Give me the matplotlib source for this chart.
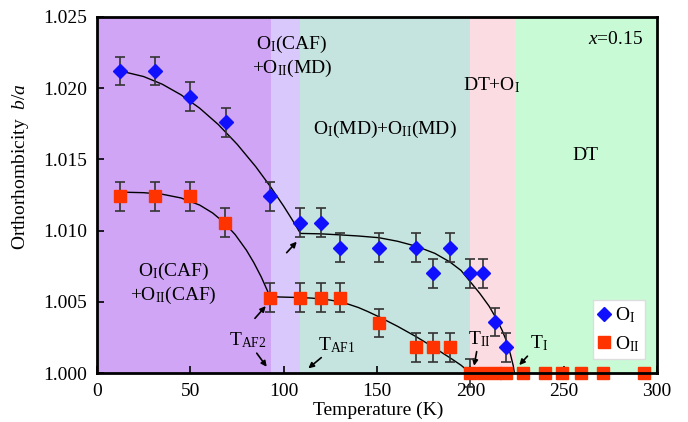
import matplotlib

matplotlib.use("Agg")

import matplotlib.pyplot as plt  # noqa: E402


# measured orthorhombicity, O_I phase (blue diamonds)
temp_o1 = [12.3, 31, 50, 69, 92.7, 109, 120, 130, 151, 171, 180, 189, 200, 207, 213, 219]
ratio_o1 = [1.0212, 1.0212, 1.0194, 1.0176, 1.0124, 1.01055, 1.01055, 1.0088,
            1.0088, 1.0088, 1.0070, 1.0088, 1.0070, 1.0070, 1.0036, 1.0018]
err_o1 = [0.001] * 16

# measured orthorhombicity, O_II phase (red squares)
temp_o2 = [12.3, 31, 50, 68.6, 92.7, 109, 120, 130, 151, 171, 180, 189, 200,
           207, 213, 219, 228, 240, 249, 259, 271, 293]
ratio_o2 = [1.0124, 1.0124, 1.0124, 1.01055, 1.0053, 1.0053, 1.0053, 1.0053,
            1.0035, 1.0018, 1.0018, 1.0018, 1.000, 1.000, 1.000, 1.000, 1.000,
            1.000, 1.000, 1.000, 1.000, 1.000]
err_o2 = [0.001] * 13 + [0.0] * 9

# guide-to-the-eye curves
fit_o1_temp = [12, 25, 35, 45, 55, 65, 75, 85, 92.7, 100, 105, 109,
               120, 130, 140, 151, 161, 171, 181, 189, 195, 200, 205, 210,
               214, 217, 219.5, 221.5, 223, 223.6]
fit_o1_ratio = [1.02122, 1.02081, 1.02027, 1.01953, 1.01859, 1.01744, 1.01607,
                1.01449, 1.01312, 1.01171, 1.01067, 1.0098,
                1.00977, 1.0097, 1.00962, 1.0095, 1.00925, 1.0089, 1.0084,
                1.0078, 1.0072, 1.0064, 1.0056, 1.0047, 1.0038, 1.0030,
                1.0022, 1.0013, 1.0005, 1.0000]
fit_o2_temp = [12.3, 25, 35, 45, 55, 62, 68, 74, 80, 84, 88, 92.7,
               100, 109, 115, 120, 125, 130, 135, 140, 145, 151, 161, 171,
               180, 189, 195, 200]
fit_o2_ratio = [1.01270, 1.01266, 1.01255, 1.01229, 1.01179, 1.01123, 1.01057,
                1.00972, 1.00863, 1.00775, 1.00674, 1.00536,
                1.00533, 1.0053, 1.00526, 1.0052, 1.00512, 1.00500, 1.00482,
                1.0046, 1.00432, 1.00395, 1.00328, 1.00255, 1.00183, 1.00108,
                1.00055, 1.0000]

# phase regions (T ranges) and their shading
region_edges = [0, 93, 109, 200, 224, 300]
region_colors = ["#d1a5f6", "#d9c8fb", "#c6e4df", "#fadce2", "#c8fad5"]

plt.rcParams["font.family"] = ["Liberation Serif", "DejaVu Serif"]
plt.rcParams["mathtext.fontset"] = "custom"
plt.rcParams["mathtext.rm"] = "Liberation Serif"
plt.rcParams["mathtext.it"] = "Liberation Serif:italic"

fig = plt.figure(figsize=(6.88, 4.22), dpi=100)
ax = fig.add_axes([0.141, 0.116, 0.814, 0.844])

for lo, hi, color in zip(region_edges[:-1], region_edges[1:], region_colors):
    ax.axvspan(lo, hi, color=color, lw=0, zorder=0)

ax.plot(fit_o1_temp, fit_o1_ratio, color="k", lw=1.0, zorder=2)
ax.plot(fit_o2_temp, fit_o2_ratio, color="k", lw=1.0, zorder=2)

eb1 = ax.errorbar(temp_o1, ratio_o1, yerr=err_o1, fmt="D", color="#1010ff", ms=7,
                  ecolor="#333333", elinewidth=1.2, capsize=3.5, capthick=1.2,
                  zorder=3, clip_on=False)
eb2 = ax.errorbar(temp_o2, ratio_o2, yerr=err_o2, fmt="s", color="#ff3300", ms=8,
                  ecolor="#333333", elinewidth=1.2, capsize=3.5, capthick=1.2,
                  zorder=4, clip_on=False)

ax.set_xlim(0, 300)
ax.set_ylim(1.000, 1.025)
ax.set_xticks([0, 50, 100, 150, 200, 250, 300])
ax.set_yticks([1.000, 1.005, 1.010, 1.015, 1.020, 1.025])
ax.set_yticklabels(["1.000", "1.005", "1.010", "1.015", "1.020", "1.025"])
ax.tick_params(direction="in", length=5, width=1.2, labelsize=14, pad=7)
for spine in ax.spines.values():
    spine.set_linewidth(2)
    spine.set_zorder(5)

ax.set_xlabel("Temperature (K)", fontsize=14)
ax.xaxis.set_label_coords(0.502, -0.08)
ax.xaxis.label.set_verticalalignment("top")
ax.set_ylabel(r"Orthorhombicity  $b/a$", fontsize=14)
ax.yaxis.set_label_coords(-0.118, 0.58)

text_kw = dict(fontsize=14, ha="center", va="center")
ax.text(104.3, 1.0222, "O$_{\\rm I}$(CAF)\n+O$_{\\rm II}$(MD)", linespacing=1.2, **text_kw)
ax.text(154.3, 1.0171, "O$_{\\rm I}$(MD)+O$_{\\rm II}$(MD)", **text_kw)
ax.text(211.4, 1.0202, "DT+O$_{\\rm I}$", **text_kw)
ax.text(261.4, 1.0153, "DT", **text_kw)
ax.text(292.5, 1.0234, "$x$=0.15", fontsize=14, ha="right", va="center")
ax.text(41, 1.0063, "O$_{\\rm I}$(CAF)\n+O$_{\\rm II}$(CAF)", linespacing=1.2, **text_kw)

arrow_kw = dict(arrowstyle="-|>", color="k", lw=1.2, mutation_scale=8,
                shrinkA=0, shrinkB=0)
ax.annotate("T$_{\\rm AF2}$", xy=(90.9, 1.00044), xytext=(80.6, 1.00228),
            arrowprops=arrow_kw, **text_kw)
ax.annotate("T$_{\\rm AF1}$", xy=(113.2, 1.00033), xytext=(128.3, 1.00197),
            arrowprops=arrow_kw, **text_kw)
ax.annotate("T$_{\\rm II}$", xy=(202, 1.00051), xytext=(204.6, 1.00239),
            arrowprops=arrow_kw, **text_kw)
ax.annotate("T$_{\\rm I}$", xy=(226.2, 1.00056), xytext=(236.8, 1.00207),
            arrowprops=arrow_kw, **text_kw)
ax.annotate("", xy=(90.4, 1.0047), xytext=(84.6, 1.00384), arrowprops=arrow_kw)
ax.annotate("", xy=(107, 1.00922), xytext=(101.6, 1.00845), arrowprops=arrow_kw)

leg = ax.legend([eb1[0], eb2[0]], [r"O$_{\rm I}$", r"O$_{\rm II}$"],
                loc="lower right", bbox_to_anchor=(0.979, 0.0385), fontsize=14,
                frameon=True, fancybox=False, framealpha=1, handletextpad=0.25,
                handlelength=0.6, borderpad=0.3, labelspacing=0.45, borderaxespad=0)
leg.get_frame().set_edgecolor("#dddddd")
leg.get_frame().set_linewidth(1)
leg.set_zorder(6)

fig.savefig("out.png", dpi=100)
